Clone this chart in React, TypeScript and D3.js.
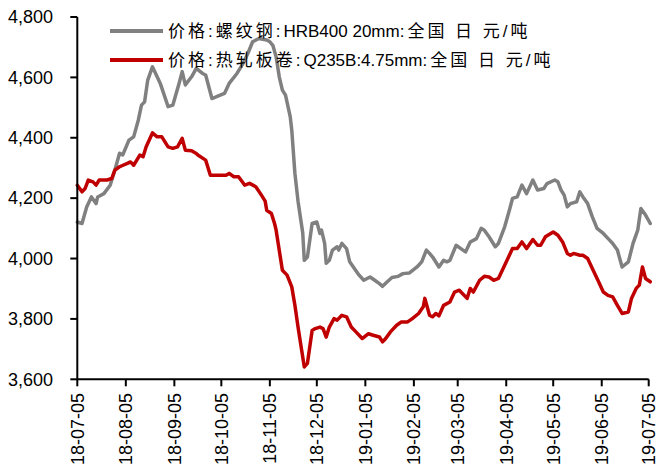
import React from "react";
import * as d3 from "d3";

// 价格:螺纹钢:HRB400 20mm:全国 日 (元/吨)
const rebarDates = [
  "2018-07-05","2018-07-08","2018-07-11","2018-07-14","2018-07-17","2018-07-18","2018-07-22","2018-07-26","2018-07-29","2018-08-01",
  "2018-08-03","2018-08-07","2018-08-10","2018-08-13","2018-08-15","2018-08-17","2018-08-19","2018-08-22","2018-08-25","2018-08-27",
  "2018-09-01","2018-09-04","2018-09-08","2018-09-10","2018-09-12","2018-09-16","2018-09-19","2018-09-23","2018-09-25","2018-09-29",
  "2018-10-02","2018-10-07","2018-10-10","2018-10-15","2018-10-19","2018-10-22","2018-10-25","2018-10-29","2018-11-03","2018-11-05",
  "2018-11-07","2018-11-09","2018-11-11","2018-11-13","2018-11-15","2018-11-18","2018-11-19","2018-11-21","2018-11-23","2018-11-26",
  "2018-11-27","2018-11-29","2018-12-02","2018-12-05","2018-12-07","2018-12-08","2018-12-10","2018-12-11","2018-12-13","2018-12-15",
  "2018-12-18","2018-12-19","2018-12-21","2018-12-24","2018-12-26","2018-12-29","2019-01-01","2019-01-04","2019-01-08","2019-01-11",
  "2019-01-14","2019-01-16","2019-01-19","2019-01-22","2019-01-26","2019-01-29","2019-02-02","2019-02-07","2019-02-10","2019-02-13",
  "2019-02-15","2019-02-17","2019-02-21","2019-02-24","2019-02-26","2019-02-28","2019-03-04","2019-03-07","2019-03-10","2019-03-13",
  "2019-03-17","2019-03-20","2019-03-22","2019-03-25","2019-03-29","2019-03-31","2019-04-04","2019-04-07","2019-04-09","2019-04-12",
  "2019-04-15","2019-04-18","2019-04-22","2019-04-25","2019-04-29","2019-05-01","2019-05-06","2019-05-08","2019-05-10","2019-05-12",
  "2019-05-14","2019-05-16","2019-05-20","2019-05-22","2019-05-24","2019-05-27","2019-05-30","2019-06-02","2019-06-06","2019-06-10",
  "2019-06-12","2019-06-15","2019-06-18","2019-06-22","2019-06-25","2019-06-28","2019-06-30","2019-07-03","2019-07-06"
];
const rebarValues = [
  4121,4116,4171,4204,4182,4204,4215,4243,4293,4349,
  4343,4392,4403,4459,4508,4519,4591,4635,4602,4580,
  4503,4508,4580,4619,4575,4602,4630,4613,4608,4530,
  4536,4547,4580,4613,4647,4680,4718,4729,4724,4718,
  4705,4668,4602,4558,4541,4470,4425,4282,4190,4085,
  3994,4005,4116,4121,4083,4094,4050,3984,3994,4028,
  4039,4028,4050,4033,3989,3967,3945,3928,3939,3928,
  3917,3908,3923,3937,3941,3950,3952,3972,3989,4028,
  4017,4005,3972,3994,3989,3994,4044,4033,4022,4055,
  4066,4100,4094,4072,4039,4050,4105,4160,4199,4204,
  4243,4215,4260,4227,4232,4248,4260,4254,4227,4210,
  4171,4182,4188,4221,4204,4182,4138,4100,4083,4061,
  4050,4028,3972,3989,4050,4094,4166,4144,4116
];

// 价格:热轧板卷:Q235B:4.75mm:全国 日 (元/吨)
const hrcDates = [
  "2018-07-05","2018-07-08","2018-07-10","2018-07-12","2018-07-15","2018-07-17","2018-07-19","2018-07-24","2018-07-27","2018-07-29",
  "2018-08-01","2018-08-06","2018-08-08","2018-08-10","2018-08-12","2018-08-14","2018-08-16","2018-08-18","2018-08-22","2018-08-25",
  "2018-08-28","2018-09-01","2018-09-04","2018-09-07","2018-09-10","2018-09-12","2018-09-16","2018-09-19","2018-09-20","2018-09-25",
  "2018-09-28","2018-10-08","2018-10-10","2018-10-13","2018-10-16","2018-10-20","2018-10-23","2018-10-27","2018-10-30","2018-11-02",
  "2018-11-03","2018-11-06","2018-11-08","2018-11-09","2018-11-13","2018-11-16","2018-11-19","2018-11-21","2018-11-23","2018-11-25",
  "2018-11-27","2018-11-29","2018-12-02","2018-12-04","2018-12-07","2018-12-09","2018-12-11","2018-12-13","2018-12-16","2018-12-18",
  "2018-12-21","2018-12-24","2018-12-27","2018-12-30","2019-01-03","2019-01-07","2019-01-10","2019-01-14","2019-01-16","2019-01-18",
  "2019-01-21","2019-01-25","2019-01-28","2019-02-01","2019-02-04","2019-02-08","2019-02-11","2019-02-12","2019-02-15","2019-02-17",
  "2019-02-19","2019-02-21","2019-02-24","2019-02-28","2019-03-03","2019-03-06","2019-03-11","2019-03-13","2019-03-15","2019-03-19",
  "2019-03-22","2019-03-25","2019-03-28","2019-03-31","2019-04-04","2019-04-07","2019-04-09","2019-04-12","2019-04-15","2019-04-18",
  "2019-04-22","2019-04-25","2019-04-27","2019-04-30","2019-05-05","2019-05-08","2019-05-11","2019-05-14","2019-05-16","2019-05-18",
  "2019-05-22","2019-05-24","2019-05-27","2019-05-30","2019-06-03","2019-06-06","2019-06-09","2019-06-12","2019-06-15","2019-06-18",
  "2019-06-22","2019-06-24","2019-06-27","2019-06-29","2019-07-01","2019-07-03","2019-07-06"
];
const hrcValues = [
  4243,4221,4232,4260,4254,4243,4260,4260,4265,4293,
  4304,4315,4320,4309,4326,4343,4337,4370,4416,4403,
  4403,4370,4365,4370,4398,4359,4357,4348,4343,4326,
  4276,4276,4282,4271,4271,4243,4249,4238,4215,4190,
  4160,4149,4116,4094,3961,3945,3906,3845,3773,3707,
  3641,3653,3762,3768,3773,3768,3740,3773,3801,3796,
  3812,3807,3773,3757,3735,3751,3746,3740,3724,3735,
  3757,3779,3790,3790,3801,3818,3840,3868,3812,3807,
  3818,3810,3845,3856,3889,3895,3868,3901,3889,3928,
  3941,3939,3928,3934,3978,4011,4033,4033,4055,4033,
  4063,4044,4044,4072,4088,4077,4055,4017,4011,4017,
  4011,4011,4000,3967,3923,3889,3878,3873,3845,3818,
  3823,3868,3901,3912,3972,3934,3923
];

const xTickLabels = [
  "18-07-05","18-08-05","18-09-05","18-10-05","18-11-05","18-12-05","19-01-05",
  "19-02-05","19-03-05","19-04-05","19-05-05","19-06-05","19-07-05"
];
const yTicks = [3600, 3800, 4000, 4200, 4400, 4600, 4800];

// legend names split in parts: [CJK prefix, latin middle, CJK suffix]
const seriesNameParts = [
  ["价格:螺纹钢:", "HRB400 20mm", ":全国 日 元/吨"],
  ["价格:热轧板卷:", "Q235B:4.75mm", ":全国 日 元/吨"]
];
const seriesColors = ["#808080", "#C00000"];

const W = 657;
const H = 465;
const LEFT = 77.3;
const RIGHT = 648.7;
const TOP = 17;
const BOTTOM = 379.3;

export default function App() {
  const parse = d3.timeParse("%Y-%m-%d");
  const parseTick = d3.timeParse("%y-%m-%d");
  const x = d3
    .scaleTime()
    .domain([parse("2018-07-05") as Date, parse("2019-07-05") as Date])
    .range([LEFT, RIGHT]);
  const y = d3.scaleLinear().domain([3600, 4800]).range([BOTTOM, TOP]);

  const line = d3
    .line<[Date, number]>()
    .x((d) => x(d[0]))
    .y((d) => y(d[1]));

  const rebar: [Date, number][] = rebarDates.map((d, i) => [parse(d) as Date, rebarValues[i]]);
  const hrc: [Date, number][] = hrcDates.map((d, i) => [parse(d) as Date, hrcValues[i]]);
  const paths = [line(rebar) || "", line(hrc) || ""];

  const font = "'Liberation Sans', Arial, 'Noto Sans CJK SC', sans-serif";
  const legendY = [31, 60];

  return (
    <svg
      width={W}
      height={H}
      style={{ position: "absolute", left: 0, top: 0, background: "#fff" }}
      fontFamily={font}
    >
      <rect x={0} y={0} width={W} height={H} fill="#fff" />
      {paths.map((p, i) => (
        <path
          key={i}
          d={p}
          fill="none"
          stroke={seriesColors[i]}
          strokeWidth={3.5}
          strokeLinejoin="round"
          strokeLinecap="round"
        />
      ))}
      {/* y axis */}
      <line x1={LEFT} x2={LEFT} y1={TOP} y2={BOTTOM} stroke="#000" strokeWidth={2} />
      {yTicks.map((t) => (
        <g key={t}>
          <line x1={LEFT - 7} x2={LEFT} y1={y(t)} y2={y(t)} stroke="#000" strokeWidth={2} />
          <text x={53} y={y(t)} dy="0.35em" textAnchor="end" fontSize={18} fill="#000">
            {d3.format(",")(t)}
          </text>
        </g>
      ))}
      {/* x axis */}
      <line x1={LEFT} x2={RIGHT} y1={BOTTOM} y2={BOTTOM} stroke="#000" strokeWidth={2} />
      {xTickLabels.map((lab) => {
        const xp = x(parseTick(lab) as Date);
        return (
          <g key={lab}>
            <line x1={xp} x2={xp} y1={BOTTOM} y2={BOTTOM + 7} stroke="#000" strokeWidth={2} />
            <text
              transform={`translate(${xp},393) rotate(-90)`}
              dy="0.35em"
              textAnchor="end"
              fontSize={18}
              fill="#000"
            >
              {lab}
            </text>
          </g>
        );
      })}
      {/* legend */}
      {seriesNameParts.map((parts, i) => (
        <g key={i}>
          <line
            x1={110}
            x2={163}
            y1={legendY[i]}
            y2={legendY[i]}
            stroke={seriesColors[i]}
            strokeWidth={4}
          />
          <text x={168} y={legendY[i]} dy="0.35em" fontSize={17} fill="#000">
            <tspan style={{ letterSpacing: "3px" }}>{parts[0]}</tspan>
            <tspan style={{ letterSpacing: "0px" }}>{parts[1]}</tspan>
            <tspan style={{ letterSpacing: "3px" }}>{parts[2]}</tspan>
          </text>
        </g>
      ))}
    </svg>
  );
}
